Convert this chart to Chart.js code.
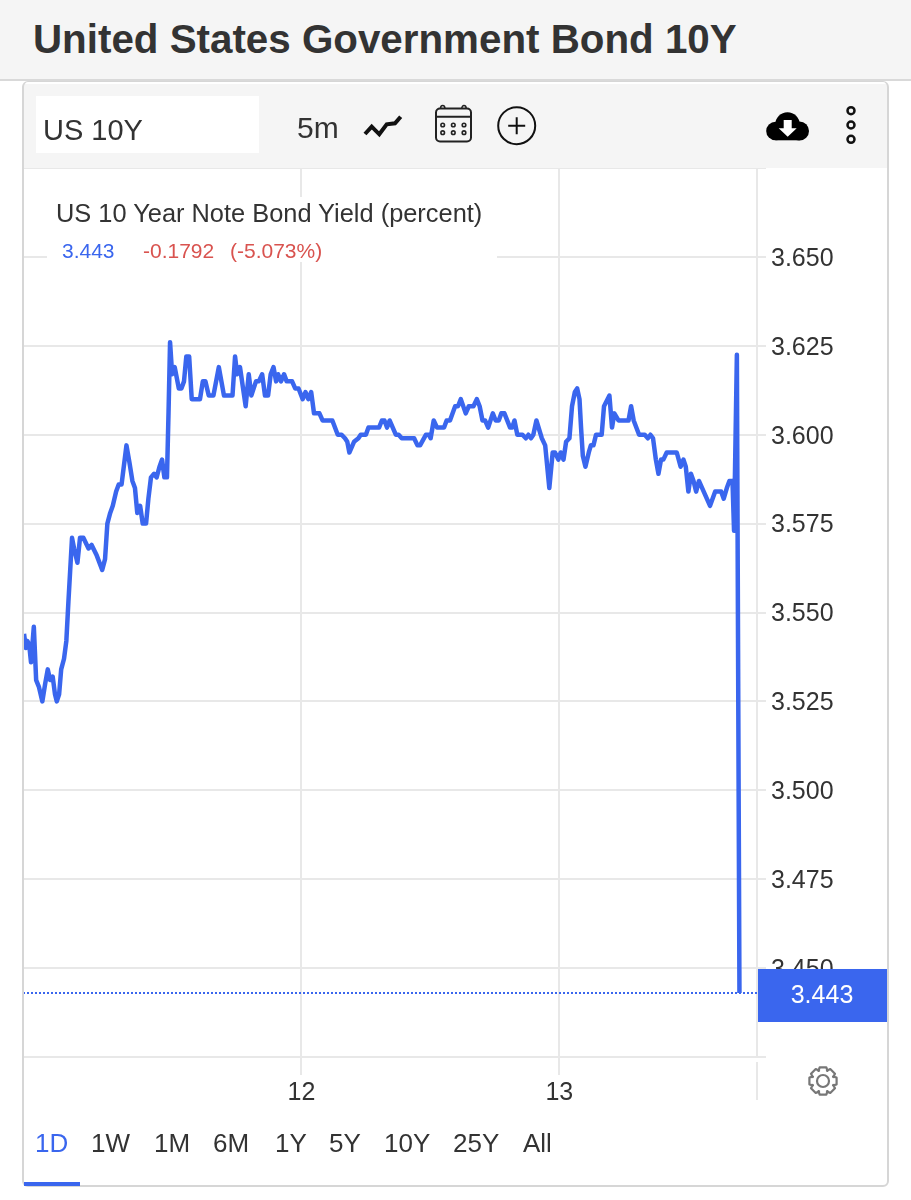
<!DOCTYPE html>
<html>
<head>
<meta charset="utf-8">
<title>United States Government Bond 10Y</title>
<script src="https://cdn.jsdelivr.net/npm/chart.js@4"></script>
<style>
  html, body { margin: 0; padding: 0; background: #fff; }
  body { position: relative; width: 911px; height: 1200px; overflow: hidden; font-family: "Liberation Sans", Arial, sans-serif; color: #333; }
  #chart { position: absolute; left: 0; top: 0; }
  .abs { position: absolute; white-space: nowrap; }
  #header { left: 0; top: 0; width: 911px; height: 79px; background: #f5f5f5; border-bottom: 2px solid #d9d9d9; }
  #title { left: 33px; top: 15px; font-size: 40.35px; line-height: 48px; font-weight: bold; color: #333; }
  #card { left: 22px; top: 81px; width: 863px; height: 1103px; border: 2px solid #d6d6d6; border-top-width: 1px; border-radius: 6px; box-sizing: content-box; pointer-events: none; }
  #toolbar { left: 24px; top: 84px; width: 863px; height: 84px; background: #f5f5f5; }
  #symbol { left: 36px; top: 96px; width: 223px; height: 57px; background: #fff; font-size: 29px; line-height: 68px; text-indent: 7px; }
  #period { left: 297px; top: 110px; font-size: 30px; line-height: 36px; }
  #legend { left: 47px; top: 197px; width: 450px; height: 65px; background: #fff; }
  #legendTitle { left: 56px; top: 199px; font-size: 25.4px; line-height: 28px; }
  .val { top: 238px; font-size: 21px; line-height: 26px; }
  .ranges span { position: absolute; top: 1127px; font-size: 26px; line-height: 32px; color: #333; white-space: nowrap; }
  #underline { left: 24px; top: 1182px; width: 56px; height: 4px; background: #3a66ee; }
</style>
</head>
<body>
<canvas id="chart" width="911" height="1200"></canvas>

<div class="abs" id="header"></div>
<div class="abs" id="title">United States Government Bond 10Y</div>
<div class="abs" id="toolbar"></div>
<div class="abs" id="card"></div>
<div class="abs" id="symbol">US 10Y</div>
<div class="abs" id="period">5m</div>

<svg class="abs" style="left:0;top:90px" width="911" height="70" viewBox="0 90 911 70">
  <!-- chart type -->
  <polyline points="365,134 371.700,126.700 379.300,134.300 386.700,124.300 395,123.300 400.700,116.700" fill="none" stroke="#111" stroke-width="4" stroke-linejoin="miter"/>
  <!-- calendar -->
  <rect x="436" y="108.500" width="35" height="33" rx="4" fill="none" stroke="#222" stroke-width="2"/>
  <line x1="436" y1="116.700" x2="471" y2="116.700" stroke="#222" stroke-width="2"/>
  <path d="M440.500 108.500a2.200 3 0 0 1 4.400 0M461.800 108.500a2.200 3 0 0 1 4.400 0" fill="none" stroke="#222" stroke-width="1.600"/>
  <g fill="none" stroke="#222" stroke-width="1.600">
    <circle cx="442.700" cy="125" r="1.800"/><circle cx="453.300" cy="125" r="1.800"/><circle cx="464" cy="125" r="1.800"/>
    <circle cx="442.700" cy="132.700" r="1.800"/><circle cx="453.300" cy="132.700" r="1.800"/><circle cx="464" cy="132.700" r="1.800"/>
  </g>
  <!-- add -->
  <circle cx="516.700" cy="125.700" r="18.500" fill="none" stroke="#111" stroke-width="2"/>
  <path d="M516.700 117.200v17M508.200 125.700h17" stroke="#111" stroke-width="2"/>
  <!-- download -->
  <g fill="#000">
    <circle cx="775.500" cy="131" r="9.300"/>
    <circle cx="787.500" cy="124.500" r="12.200"/>
    <circle cx="799.500" cy="131" r="9.500"/>
    <rect x="775.500" y="128" width="24" height="12.300"/>
  </g>
  <path d="M783.700 120h8v8.300h5l-9 8.400-9-8.400h5z" fill="#fff"/>
  <!-- menu -->
  <g fill="none" stroke="#111" stroke-width="2.500">
    <circle cx="851" cy="110.700" r="3.500"/><circle cx="851" cy="125" r="3.500"/><circle cx="851" cy="139.300" r="3.500"/>
  </g>
</svg>

<div class="abs" id="legend"></div>
<div class="abs" id="legendTitle">US 10 Year Note Bond Yield (percent)</div>
<div class="abs val" style="left:62px;color:#3a66ee">3.443</div>
<div class="abs val" style="left:143px;color:#d9534f">-0.1792</div>
<div class="abs val" style="left:230px;color:#d9534f">(-5.073%)</div>

<svg class="abs" style="left:806px;top:1064px" width="34" height="34" viewBox="-17 -17 34 34">
  <path id="gearOutline" fill="none" stroke="#777" stroke-width="2.200" stroke-linejoin="round"/>
  <circle r="6" fill="none" stroke="#777" stroke-width="2.200"/>
</svg>

<div class="ranges">
  <span style="left:35px;color:#3a66ee">1D</span>
  <span style="left:91px">1W</span>
  <span style="left:154px">1M</span>
  <span style="left:213px">6M</span>
  <span style="left:275px">1Y</span>
  <span style="left:329px">5Y</span>
  <span style="left:384px">10Y</span>
  <span style="left:453px">25Y</span>
  <span style="left:523px">All</span>
</div>
<div class="abs" id="underline"></div>

<script>
// day of month for each 5m quote (the feed skips the closed hours)
const times = [
  10.925,10.932,10.938,10.945,10.952,10.963,10.972,10.983,10.996,11.007,11.017,11.026,11.036,11.045,11.052,11.061,
  11.069,11.080,11.089,11.097,11.111,11.119,11.132,11.142,11.155,11.175,11.187,11.207,11.228,11.239,11.248,11.259,
  11.269,11.282,11.292,11.303,11.322,11.334,11.345,11.355,11.364,11.375,11.385,11.398,11.407,11.417,11.429,11.439,
  11.450,11.460,11.469,11.479,11.485,11.491,11.499,11.509,11.525,11.535,11.545,11.554,11.565,11.575,11.607,11.618,
  11.628,11.641,11.659,11.680,11.700,11.733,11.743,11.751,11.762,11.784,11.796,11.806,11.824,11.835,11.848,11.859,
  11.871,11.881,11.892,11.902,11.910,11.921,11.933,11.943,11.964,11.976,11.989,12.005,12.016,12.027,12.038,12.049,
  12.070,12.082,12.120,12.141,12.156,12.169,12.178,12.186,12.204,12.221,12.230,12.250,12.260,12.301,12.312,12.322,
  12.332,12.342,12.366,12.377,12.389,12.437,12.450,12.460,12.483,12.494,12.501,12.513,12.526,12.553,12.563,12.576,
  12.596,12.607,12.618,12.637,12.649,12.667,12.680,12.691,12.702,12.712,12.724,12.742,12.753,12.765,12.775,12.787,
  12.809,12.817,12.826,12.837,12.857,12.870,12.880,12.890,12.899,12.911,12.932,12.945,12.961,12.974,12.983,12.996,
  13.005,13.016,13.026,13.039,13.049,13.060,13.069,13.078,13.084,13.091,13.101,13.114,13.122,13.132,13.142,13.164,
  13.173,13.194,13.204,13.213,13.229,13.268,13.278,13.288,13.309,13.331,13.343,13.353,13.363,13.374,13.384,13.394,
  13.403,13.416,13.455,13.470,13.481,13.490,13.500,13.510,13.520,13.530,13.541,13.584,13.604,13.627,13.637,13.649,
  13.659,13.671,13.677,13.688,13.698
];

const yields = [
  3.544,3.540,3.542,3.541,3.536,3.546,3.531,3.529,3.525,3.530,3.534,3.531,3.532,3.527,3.525,3.527,
  3.534,3.537,3.542,3.553,3.571,3.568,3.564,3.571,3.571,3.568,3.569,3.566,3.562,3.565,3.575,3.578,
  3.580,3.584,3.586,3.586,3.597,3.592,3.587,3.585,3.578,3.580,3.575,3.575,3.582,3.588,3.589,3.588,
  3.591,3.593,3.588,3.588,3.606,3.626,3.617,3.619,3.613,3.613,3.615,3.622,3.622,3.610,3.610,3.615,
  3.615,3.611,3.611,3.619,3.611,3.611,3.622,3.617,3.619,3.608,3.617,3.611,3.615,3.615,3.617,3.611,
  3.611,3.617,3.619,3.615,3.617,3.615,3.617,3.615,3.615,3.613,3.613,3.610,3.612,3.610,3.612,3.606,
  3.606,3.604,3.604,3.600,3.600,3.599,3.598,3.595,3.598,3.599,3.600,3.600,3.602,3.602,3.604,3.604,
  3.602,3.604,3.600,3.600,3.599,3.599,3.597,3.597,3.600,3.600,3.599,3.604,3.602,3.602,3.604,3.604,
  3.608,3.608,3.610,3.606,3.608,3.608,3.610,3.608,3.604,3.604,3.602,3.606,3.604,3.604,3.606,3.606,
  3.602,3.602,3.604,3.600,3.600,3.599,3.600,3.599,3.600,3.604,3.599,3.597,3.585,3.595,3.595,3.593,
  3.595,3.593,3.598,3.599,3.608,3.612,3.613,3.610,3.602,3.594,3.591,3.595,3.597,3.597,3.600,3.600,
  3.608,3.611,3.602,3.606,3.604,3.604,3.608,3.604,3.600,3.600,3.599,3.600,3.599,3.593,3.589,3.593,
  3.593,3.595,3.595,3.591,3.593,3.591,3.584,3.589,3.587,3.584,3.587,3.580,3.584,3.584,3.582,3.585,
  3.587,3.587,3.573,3.6225,3.443
];

const xTicks = [12, 13];
const xMin = 10.921, xMax = 13.766;
const yMin = 3.425, yMax = 3.675;
const yStep = 0.025;
const lastYield = 3.443;

const blue = "#3a66ee";
const gridColor = "#e8e8e8";
const fontName = '"Liberation Sans", Arial, sans-serif';

// settings gear: 8 teeth
let gearPath = "";
for (let i = 0; i < 8; i++) {
    const a = i * Math.PI / 4;
    [[11, -0.42], [14, -0.24], [14, 0.24], [11, 0.42]].forEach(([r, da]) => {
        const px = (r * Math.sin(a + da)).toFixed(2);
        const py = (-r * Math.cos(a + da)).toFixed(2);
        gearPath += (gearPath ? "L" : "M") + px + " " + py;
    });
}
document.getElementById("gearOutline").setAttribute("d", gearPath + "Z");

// price flag and the long tick under the right axis
const lastPriceFlag = {
    id: "lastPriceFlag",
    afterDraw(chart) {
        const ctx = chart.ctx;
        const y = chart.scales.y.getPixelForValue(lastYield);
        const right = chart.chartArea.right;
        ctx.save();
        ctx.fillStyle = gridColor;
        ctx.fillRect(right - 1, chart.chartArea.bottom + 5, 2, 38);
        ctx.fillStyle = blue;
        ctx.fillRect(right + 1, y - 24, 130, 53);
        ctx.fillStyle = "#fff";
        ctx.font = "25px " + fontName;
        ctx.textAlign = "center";
        ctx.textBaseline = "middle";
        ctx.fillText(lastYield.toFixed(3), right + 65, y + 3);
        ctx.restore();
    }
};

new Chart(document.getElementById("chart"), {
    type: "line",
    data: {
        datasets: [
            {
                label: "US 10Y",
                data: times.map((t, i) => ({ x: t, y: yields[i] })),
                borderColor: blue,
                borderWidth: 4.5,
                borderJoinStyle: "round",
                pointRadius: 0,
                tension: 0
            },
            {
                label: "last",
                data: [{ x: xMin, y: lastYield }, { x: xMax, y: lastYield }],
                borderColor: blue,
                borderWidth: 2,
                borderDash: [2, 2],
                pointRadius: 0,
                tension: 0
            }
        ]
    },
    options: {
        responsive: false,
        animation: false,
        layout: { autoPadding: false, padding: { left: 23, right: 22, top: 168, bottom: 0 } },
        plugins: { legend: { display: false }, tooltip: { enabled: false } },
        scales: {
            x: {
                type: "linear",
                min: xMin,
                max: xMax,
                afterBuildTicks: scale => { scale.ticks = xTicks.map(v => ({ value: v })); },
                afterFit: scale => { scale.height = 143; },
                grid: { color: gridColor, lineWidth: 2, tickLength: 18 },
                border: { display: false },
                ticks: {
                    autoSkip: false,
                    maxRotation: 0,
                    padding: 3,
                    color: "#333",
                    font: { family: fontName, size: 25 },
                    callback: v => String(v)
                }
            },
            y: {
                position: "right",
                min: yMin,
                max: yMax,
                afterFit: scale => { scale.width = 132; },
                grid: { color: gridColor, lineWidth: 2, tickLength: 9 },
                border: { display: true, color: gridColor, width: 2 },
                ticks: {
                    stepSize: yStep,
                    padding: 5,
                    labelOffset: 2,
                    color: "#333",
                    font: { family: fontName, size: 25 },
                    callback: v => (v < 3.44 || v > 3.66) ? "" : Number(v).toFixed(3)
                }
            }
        }
    },
    plugins: [lastPriceFlag]
});
</script>
</body>
</html>
